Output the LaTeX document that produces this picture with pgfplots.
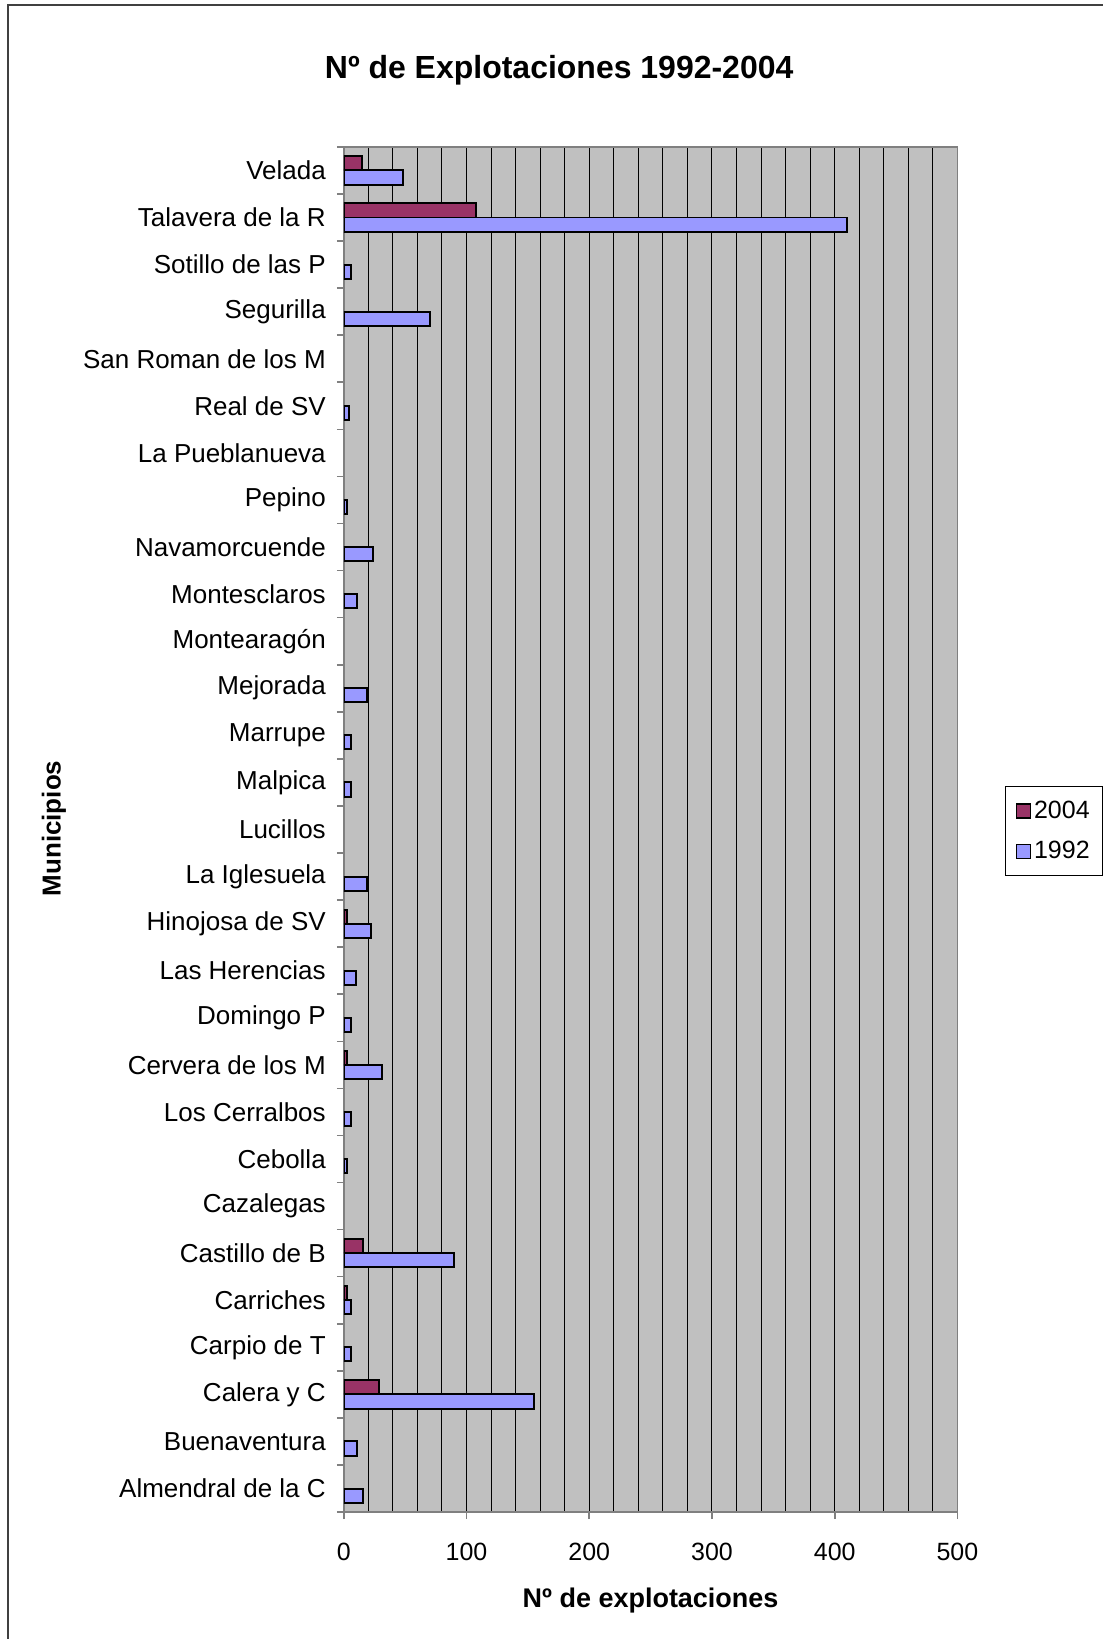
\documentclass[border=0pt]{standalone}
\usepackage{fontspec}
\setmainfont{Liberation Sans}
\usepackage{pgfplots}
\pgfplotsset{compat=1.18}

\definecolor{bar04}{HTML}{993366}
\definecolor{bar92}{HTML}{9999FF}
\definecolor{plotbg}{HTML}{C0C0C0}
\definecolor{axgray}{HTML}{808080}

\begin{document}
\begin{tikzpicture}
% page frame (1104x1640 px at 0.5pt per px)
\path (0,0) rectangle (552pt,820pt);
\draw[line width=1pt, black!75] (4pt,0) -- (4pt,817.5pt) -- (552pt,817.5pt);

\node[font=\bfseries\fontsize{16}{19}\selectfont] at (279.75pt,785pt) {Nº de Explotaciones 1992-2004};
\node[font=\bfseries\fontsize{13.5}{16}\selectfont] at (325.5pt,19pt) {Nº de explotaciones};
\node[font=\bfseries\fontsize{13}{16}\selectfont, rotate=90] at (27pt,405.5pt) {Municipios};

\begin{axis}[
    at={(172pt,63.5pt)}, anchor=south west,
    width=307pt, height=683pt, scale only axis,
    xbar, bar width=0.3,
    xmin=0, xmax=500,
    ymin=-0.5, ymax=28.5,
    xtick={0,100,...,500},
    minor x tick num=4,
    xmajorgrids, xminorgrids,
    major grid style={black, line width=0.5pt},
    minor grid style={black, line width=0.5pt},
    minor x tick style={draw=none},
    major y tick style={draw=none},
    ytick={0,...,28},
    yticklabels={Almendral de la C, Buenaventura, Calera y C, Carpio de T, Carriches,
        Castillo de B, Cazalegas, Cebolla, Los Cerralbos, Cervera de los M,
        Domingo P, Las Herencias, Hinojosa de SV, La Iglesuela, Lucillos,
        Malpica, Marrupe, Mejorada, Montearagón, Montesclaros,
        Navamorcuende, Pepino, La Pueblanueva, Real de SV, San Roman de los M,
        Segurilla, Sotillo de las P, Talavera de la R, Velada},
    minor ytick={-0.5,0.5,...,28.5},
    major tick length=3.5pt, minor tick length=3.5pt,
    tick align=outside,
    xtick pos=bottom, ytick pos=left,
    tick style={axgray, line width=0.8pt},
    axis background/.style={fill=plotbg},
    axis line style={axgray, line width=0.8pt},
    /pgf/number format/assume math mode=true,
    xticklabel style={font=\fontsize{12.5}{15}\selectfont, yshift=-8.5pt},
    yticklabel style={font=\fontsize{13}{15}\selectfont, xshift=-2pt},
    legend style={at={(rel axis cs:1.078,0.5315)}, anchor=north west,
        draw=black, fill=white, font=\fontsize{12.5}{15}\selectfont,
        row sep=7pt, inner xsep=5pt, inner ysep=5.5pt,
        nodes={inner sep=1.5pt}},
    legend cell align=left,
]
\addplot[fill=bar04, draw=black, line width=1pt, bar shift=0.15,
    legend image code/.code={\draw[fill=bar04, draw=black, line width=0.7pt] (0pt,-3.5pt) rectangle (7pt,3.5pt);}]
    coordinates {(29,2) (3,4) (16,5) (3,9) (3,12) (108,27) (15,28)};
\addplot[fill=bar92, draw=black, line width=1pt, bar shift=-0.15,
    legend image code/.code={\draw[fill=bar92, draw=black, line width=0.7pt] (0pt,-3.5pt) rectangle (7pt,3.5pt);}]
    coordinates {(16,0) (11,1) (155,2) (6,3) (6,4) (90,5) (3,7) (6,8) (31,9)
        (6,10) (10,11) (22,12) (19,13) (6,15) (6,16) (19,17) (11,19) (24,20)
        (3,21) (4,23) (70,25) (6,26) (410,27) (48,28)};
\legend{2004,1992}
\end{axis}
\end{tikzpicture}
\end{document}
